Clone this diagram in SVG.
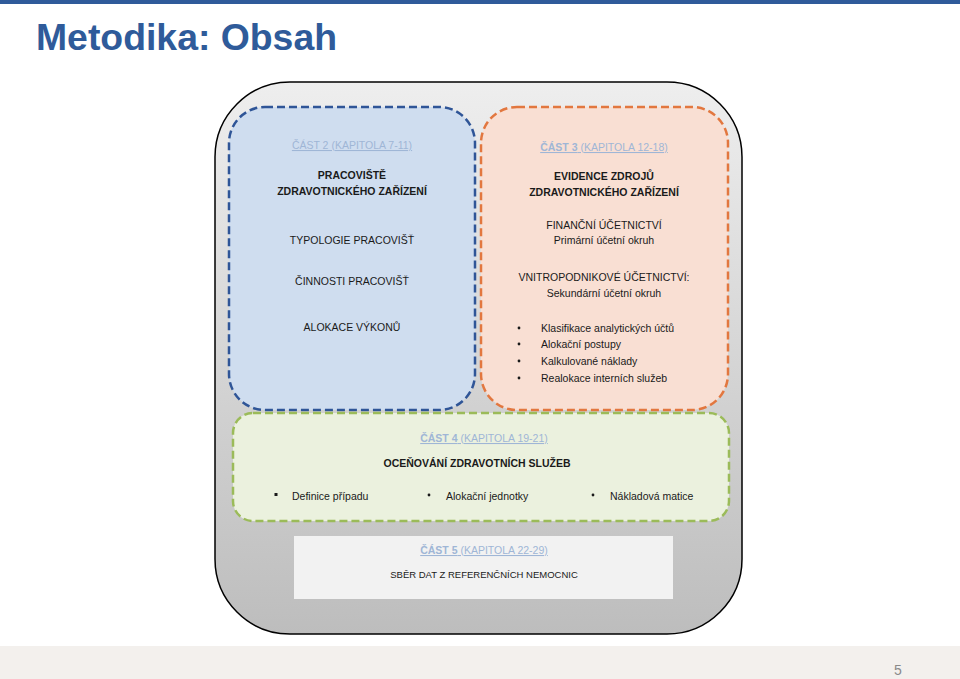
<svg xmlns="http://www.w3.org/2000/svg" width="960" height="679" viewBox="0 0 960 679">
<defs>
<linearGradient id="outerG" x1="0" y1="0" x2="0" y2="1">
<stop offset="0" stop-color="#eeeeee"/>
<stop offset="1" stop-color="#bdbdbd"/>
</linearGradient>
<style>
text{font-family:"Liberation Sans",Arial,sans-serif;font-size:10.5px;fill:#1a1a1a}
.c{text-anchor:middle}
.b{font-weight:bold}
.part{fill:#9fb6d6;text-decoration:underline}
.dash{stroke-width:2.5;stroke-dasharray:8 4}
</style>
</defs>
<rect x="0" y="0" width="960" height="679" fill="#ffffff"/>
<rect x="0" y="0" width="960" height="4" fill="#2f5b9a"/>
<rect x="0" y="646" width="960" height="33" fill="#f3f0ed"/>
<text x="36" y="50" style="font-size:37px;font-weight:bold;fill:#2f5b9a" textLength="301" lengthAdjust="spacingAndGlyphs">Metodika: Obsah</text>
<text x="898" y="675" class="c" style="font-size:14px;fill:#8a8a8a">5</text>

<g id="outer">
<rect x="215" y="82" width="527" height="552" rx="75" ry="75" fill="url(#outerG)" stroke="#000" stroke-width="1.5"/>
</g>

<g id="part2">
<rect x="229" y="107" width="246" height="303" rx="36" ry="36" fill="#cfddef" stroke="#2f5597" class="dash"/>
<text x="352" y="149" class="c part">ČÁST 2 (KAPITOLA 7-11)</text>
<text x="352" y="179" class="c b">PRACOVIŠTĚ</text>
<text x="352" y="195" class="c b">ZDRAVOTNICKÉHO ZAŘÍZENÍ</text>
<text x="352" y="244" class="c">TYPOLOGIE PRACOVIŠŤ</text>
<text x="352" y="285" class="c">ČINNOSTI PRACOVIŠŤ</text>
<text x="352" y="331" class="c">ALOKACE VÝKONŮ</text>
</g>

<g id="part3">
<rect x="481" y="107" width="247" height="303" rx="36" ry="36" fill="#f9dfd3" stroke="#e2773f" class="dash"/>
<text x="604" y="151" class="c part"><tspan class="b">ČÁST 3</tspan> (KAPITOLA 12-18)</text>
<text x="604" y="180" class="c b">EVIDENCE ZDROJŮ</text>
<text x="604" y="196" class="c b">ZDRAVOTNICKÉHO ZAŘÍZENÍ</text>
<text x="604" y="229" class="c">FINANČNÍ ÚČETNICTVÍ</text>
<text x="604" y="244" class="c">Primární účetní okruh</text>
<text x="604" y="281" class="c">VNITROPODNIKOVÉ ÚČETNICTVÍ:</text>
<text x="604" y="297" class="c">Sekundární účetní okruh</text>
<circle cx="519" cy="328" r="1.4" fill="#1a1a1a"/>
<circle cx="519" cy="344" r="1.4" fill="#1a1a1a"/>
<circle cx="519" cy="361" r="1.4" fill="#1a1a1a"/>
<circle cx="519" cy="378" r="1.4" fill="#1a1a1a"/>
<text x="541" y="332">Klasifikace analytických účtů</text>
<text x="541" y="348">Alokační postupy</text>
<text x="541" y="365">Kalkulované náklady</text>
<text x="541" y="382">Realokace interních služeb</text>
</g>

<g id="part4">
<rect x="233" y="413" width="496" height="108" rx="20" ry="20" fill="#ebf1de" stroke="#9bbb59" class="dash"/>
<text x="484" y="442" class="c part"><tspan class="b">ČÁST 4</tspan> (KAPITOLA 19-21)</text>
<text x="477" y="467" class="c b">OCEŇOVÁNÍ ZDRAVOTNÍCH SLUŽEB</text>
<rect x="274.5" y="493" width="3" height="3" fill="#1a1a1a"/>
<text x="292" y="500">Definice případu</text>
<circle cx="429" cy="495" r="1.4" fill="#1a1a1a"/>
<text x="446" y="500">Alokační jednotky</text>
<circle cx="593" cy="495" r="1.4" fill="#1a1a1a"/>
<text x="610" y="500">Nákladová matice</text>
</g>

<g id="part5">
<rect x="294" y="536" width="379" height="63" fill="#f2f2f2"/>
<text x="484" y="554" class="c part"><tspan class="b">ČÁST 5</tspan> (KAPITOLA 22-29)</text>
<text x="484" y="578" class="c" style="font-size:9.5px">SBĚR DAT Z REFERENČNÍCH NEMOCNIC</text>
</g>
</svg>
